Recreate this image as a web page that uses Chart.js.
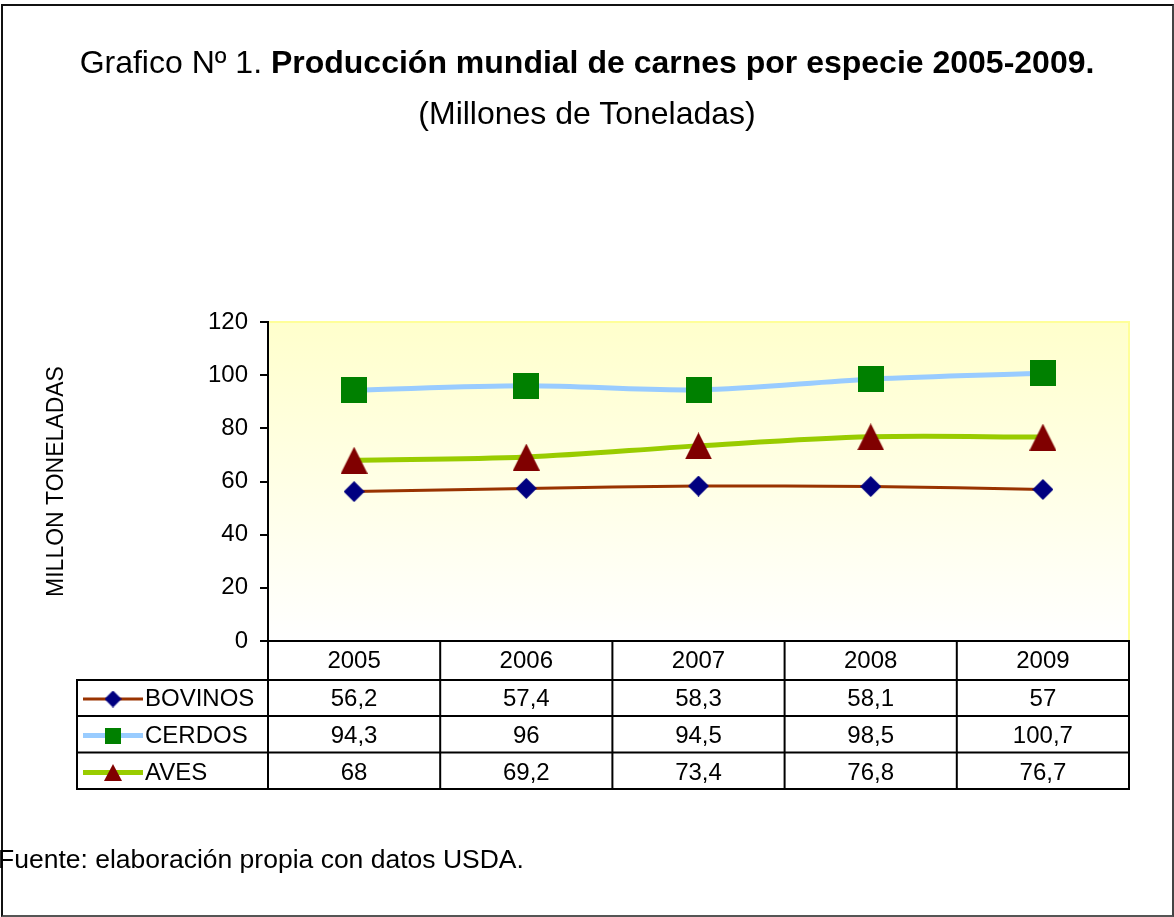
<!DOCTYPE html>
<html><head><meta charset="utf-8">
<script src="https://cdn.jsdelivr.net/npm/chart.js@4.4.1/dist/chart.umd.min.js"></script>
<style>
html,body{margin:0;padding:0;background:#fff;}
#wrap{position:relative;width:1174px;height:917px;overflow:hidden;font-family:"Liberation Sans",Arial,sans-serif;color:#000;}
#frame{position:absolute;left:1px;top:4px;width:1173px;height:913px;box-sizing:border-box;border:2px solid #111;border-right-color:#444;border-bottom-color:#555;}
#c{position:absolute;left:0;top:0;}
.t{position:absolute;left:0;width:1174px;text-align:center;line-height:1;white-space:nowrap;}
#title{top:46px;font-size:32px;}
#sub{top:97px;font-size:32px;}
#foot{position:absolute;left:-2px;top:846px;font-size:26.5px;line-height:1;white-space:nowrap;}
</style></head>
<body>
<div id="wrap">
  <div id="frame"></div>
  <canvas id="c" width="1174" height="917"></canvas>
  <div class="t" id="title">Grafico Nº 1. <b>Producción mundial de carnes por especie 2005-2009.</b></div>
  <div class="t" id="sub">(Millones de Toneladas)</div>
  <div id="foot">Fuente: elaboración propia con datos USDA.</div>
</div>
<script>
// ---- data ----
const years = ['2005', '2006', '2007', '2008', '2009'];
const bovinos = [56.2, 57.4, 58.3, 58.1, 57];
const cerdos = [94.3, 96, 94.5, 98.5, 100.7];
const aves = [68, 69.2, 73.4, 76.8, 76.7];
const seriesNames = ['BOVINOS', 'CERDOS', 'AVES'];
const yTitle = 'MILLON TONELADAS';
const yMin = 0, yMax = 120, yStep = 20;

const FONT = '"Liberation Sans", Arial, sans-serif';
Chart.defaults.font.family = FONT;
Chart.defaults.color = '#000';

function makeMarker(type, w, h, color) {
  const cv = document.createElement('canvas');
  cv.width = w; cv.height = h;
  const c = cv.getContext('2d');
  c.fillStyle = color;
  c.beginPath();
  if (type === 'diamond') {
    c.moveTo(w / 2, 0); c.lineTo(w, h / 2); c.lineTo(w / 2, h); c.lineTo(0, h / 2);
  } else if (type === 'square') {
    c.rect(0, 0, w, h);
  } else {
    c.moveTo(w / 2, 0); c.lineTo(w, h); c.lineTo(0, h);
  }
  c.closePath();
  c.fill();
  return cv;
}

const styles = [
  { line: '#993300', lw: 3, marker: makeMarker('diamond', 21, 21, '#000080'), legendMarker: makeMarker('diamond', 17, 17, '#000080') },
  { line: '#99CCFF', lw: 5, marker: makeMarker('square', 26, 26, '#008000'), legendMarker: makeMarker('square', 16, 16, '#008000') },
  { line: '#99CC00', lw: 5, marker: makeMarker('triangle', 27, 27, '#800000'), legendMarker: makeMarker('triangle', 18, 17, '#800000') }
];
const seriesData = [bovinos, cerdos, aves];

const bgPlugin = {
  id: 'plotBg',
  beforeDraw(chart) {
    const { ctx, chartArea: a } = chart;
    ctx.save();
    const g = ctx.createLinearGradient(0, a.top, 0, a.bottom);
    g.addColorStop(0, '#FFFFCC');
    g.addColorStop(1, '#FFFFFF');
    ctx.fillStyle = g;
    ctx.fillRect(a.left, a.top, a.right - a.left, a.bottom - a.top);
    ctx.strokeStyle = '#FFFF99';
    ctx.lineWidth = 2;
    ctx.beginPath();
    ctx.moveTo(a.left, a.top);
    ctx.lineTo(a.right, a.top);
    ctx.lineTo(a.right, a.bottom);
    ctx.stroke();
    ctx.restore();
  }
};

const tablePlugin = {
  id: 'dataTable',
  afterDraw(chart) {
    const { ctx, chartArea: a } = chart;
    const xs = chart.scales.x;
    const n = years.length;
    const centers = years.map((_, i) => xs.getPixelForTick(i));
    const bounds = [a.left];
    for (let i = 0; i < n - 1; i++) bounds.push((centers[i] + centers[i + 1]) / 2);
    bounds.push(a.right);
    const tableLeft = 77;
    const rows = [a.bottom, 680, 716, 752.5, 789];
    const textY = [661, 699.5, 736, 773];

    ctx.save();
    ctx.strokeStyle = '#000';
    ctx.lineWidth = 2;
    ctx.beginPath();
    for (let r = 1; r < rows.length; r++) {
      ctx.moveTo(tableLeft - 1, rows[r]);
      ctx.lineTo(a.right + 1, rows[r]);
    }
    bounds.forEach(b => { ctx.moveTo(b, a.bottom); ctx.lineTo(b, rows[rows.length - 1] + 1); });
    ctx.moveTo(tableLeft, rows[1]);
    ctx.lineTo(tableLeft, rows[rows.length - 1] + 1);
    ctx.stroke();

    ctx.fillStyle = '#000';
    ctx.font = '24px ' + FONT;
    ctx.textAlign = 'center';
    ctx.textBaseline = 'middle';
    years.forEach((y, i) => ctx.fillText(y, centers[i], textY[0]));
    seriesData.forEach((arr, s) => {
      arr.forEach((v, i) => ctx.fillText(String(v).replace('.', ','), centers[i], textY[s + 1]));
    });

    // legend keys
    seriesNames.forEach((name, s) => {
      const st = styles[s];
      const ly = textY[s + 1] - 0.5;
      ctx.strokeStyle = st.line;
      ctx.lineWidth = st.lw;
      ctx.beginPath();
      ctx.moveTo(83, ly);
      ctx.lineTo(143, ly);
      ctx.stroke();
      const m = st.legendMarker;
      ctx.drawImage(m, 113 - m.width / 2, ly - m.height / 2);
      ctx.textAlign = 'left';
      ctx.fillStyle = '#000';
      ctx.fillText(name, 145, textY[s + 1]);
    });
    ctx.restore();
  }
};

new Chart(document.getElementById('c'), {
  type: 'line',
  data: {
    labels: years,
    datasets: seriesNames.map((name, s) => ({
      label: name,
      data: seriesData[s],
      borderColor: styles[s].line,
      borderWidth: styles[s].lw,
      pointStyle: styles[s].marker,
      pointRadius: 12,
      pointHoverRadius: 12,
      tension: 0.33,
      fill: false
    }))
  },
  options: {
    responsive: false,
    animation: false,
    devicePixelRatio: 1,
    events: [],
    layout: { padding: { left: 0, top: 322, right: 45, bottom: 276 } },
    plugins: { legend: { display: false }, tooltip: { enabled: false }, title: { display: false } },
    scales: {
      x: {
        type: 'category',
        offset: true,
        ticks: { display: false },
        grid: { display: true, drawOnChartArea: false, drawTicks: false, color: 'rgba(0,0,0,0)' },
        border: { display: true, color: '#000', width: 2 },
        afterFit(s) { s.height = 0; }
      },
      y: {
        min: yMin, max: yMax,
        ticks: { stepSize: yStep, font: { size: 24 }, color: '#000', padding: 12 },
        grid: { display: true, drawOnChartArea: false, drawTicks: true, tickLength: 8, color: '#000', lineWidth: 2 },
        border: { display: true, color: '#000', width: 2 },
        title: { display: true, text: yTitle, font: { size: 23 }, color: '#000', padding: { top: 43, bottom: 0 } },
        afterFit(s) { s.width = 268; }
      }
    }
  },
  plugins: [bgPlugin, tablePlugin]
});
</script>
</body></html>
